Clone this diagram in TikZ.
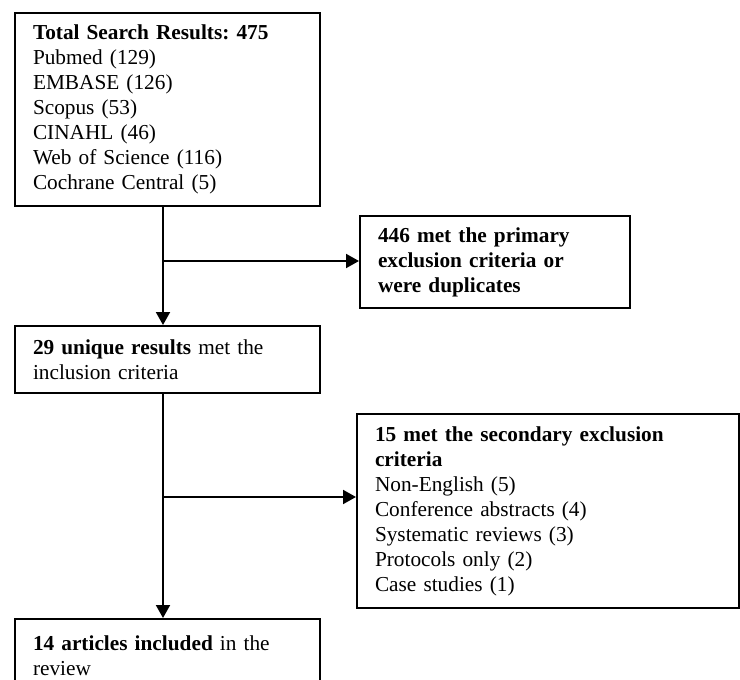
\documentclass[tikz,border=0pt]{standalone}
\usepackage{fontspec}
\setmainfont{Liberation Serif}
\usetikzlibrary{arrows.meta}
\tikzset{
  box/.style={draw, line width=2pt, anchor=north west, align=left,
    inner xsep=18pt, inner ysep=0pt, font=\frenchspacing\fontsize{21.3}{25}\selectfont},
  flow/.style={line width=2pt, -{Triangle[length=13pt,width=14pt]}}
}
\begin{document}
\begin{tikzpicture}[x=1pt,y=-1pt]
    \useasboundingbox (0,0) rectangle (740,680);
    \clip (0,0) rectangle (740,680);
    % boxes
    \node (total) at (14,12) [box, text width=269pt, minimum height=193pt]
      {\textbf{Total Search Results: 475}\\ Pubmed (129)\\ EMBASE (126)\\
       Scopus (53)\\ CINAHL (46)\\ Web of Science (116)\\ Cochrane Central (5)};
    \node (primary) at (359,215) [box, text width=234pt, minimum height=92pt]
      {\textbf{446 met the primary}\\ \textbf{exclusion criteria or}\\ \textbf{were duplicates}};
    \node (unique) at (14,325) [box, text width=269pt, minimum height=67pt]
      {\textbf{29 unique results} met the\\ inclusion criteria};
    \node (secondary) at (356,413) [box, text width=346pt, minimum height=194pt]
      {\textbf{15 met the secondary exclusion}\\ \textbf{criteria}\\ Non-English (5)\\
       Conference abstracts (4)\\ Systematic reviews (3)\\ Protocols only (2)\\ Case studies (1)};
    \node (included) at (14,618) [box, text width=269pt, minimum height=73pt]
      {\textbf{14 articles included} in the\\ review};
    % connectors
    \coordinate (fork1) at (163,261);
    \coordinate (fork2) at (163,497);
    \draw[flow] (fork1 |- total.south) -- (fork1 |- unique.north);
    \draw[flow] (fork1) -- (fork1 -| primary.west);
    \draw[flow] (fork2 |- unique.south) -- (fork2 |- included.north);
    \draw[flow] (fork2) -- (fork2 -| secondary.west);
\end{tikzpicture}
\end{document}
